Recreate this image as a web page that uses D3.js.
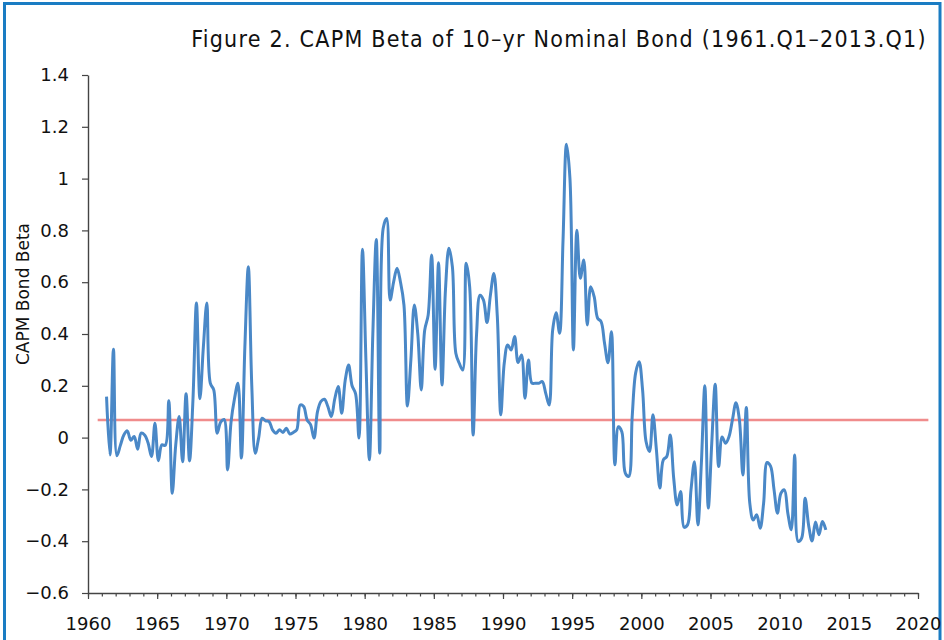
<!DOCTYPE html>
<html>
<head>
<meta charset="utf-8">
<script src="https://cdn.jsdelivr.net/npm/d3@7"></script>
<style>
  body { margin: 0; background: #fff; }
  svg { display: block; }
</style>
</head>
<body>
<div id="my_viz"></div>
<script>

var width = 944,
    height = 640;

// quarterly CAPM beta, 1961.Q1 .. 2013.Q1
var betaValues = [
    0.158, -0.067, 0.341, -0.07, -0.03, 0.01, 0.026, -0.01, 0.004, -0.045,
    0.017, 0.01, -0.02, -0.073, 0.055, -0.089, -0.028, -0.03, 0.142, -0.215,
    -0.03, 0.081, -0.093, 0.169, -0.09, 0.15, 0.52, 0.15, 0.35, 0.52,
    0.21, 0.184, 0.017, 0.06, 0.07, -0.125, 0.06, 0.15, 0.21, -0.079,
    0.35, 0.66, 0.2, -0.06, 0.0, 0.075, 0.065, 0.062, 0.03, 0.017,
    0.03, 0.02, 0.036, 0.014, 0.02, 0.03, 0.126, 0.12, 0.068, 0.05,
    -0.002, 0.1, 0.14, 0.148, 0.12, 0.081, 0.15, 0.197, 0.094, 0.22,
    0.28, 0.2, 0.17, -0.002, 0.727, 0.3, -0.086, 0.4, 0.765, -0.06,
    0.808, 0.846, 0.531, 0.6, 0.654, 0.6, 0.512, 0.122, 0.3, 0.512,
    0.4, 0.184, 0.415, 0.473, 0.705, 0.264, 0.675, 0.203, 0.57, 0.731,
    0.66, 0.326, 0.287, 0.261, 0.673, 0.582, 0.01, 0.4, 0.55, 0.531,
    0.444, 0.55, 0.634, 0.467, 0.088, 0.287, 0.358, 0.338, 0.39, 0.29,
    0.319, 0.152, 0.3, 0.21, 0.21, 0.21, 0.216, 0.171, 0.126, 0.415,
    0.482, 0.403, 0.763, 1.133, 1.0, 0.338, 0.801, 0.615, 0.686, 0.435,
    0.582, 0.544, 0.461, 0.448, 0.364, 0.289, 0.409, -0.105, 0.042, 0.023,
    -0.137, -0.15, 0.081, 0.25, 0.293, 0.184, -0.015, -0.054, 0.088, -0.047,
    -0.195, -0.086, -0.073, 0.01, -0.157, -0.26, -0.208, -0.346, -0.337, -0.202,
    -0.093, -0.337, -0.099, 0.2, -0.272, -0.022, 0.206, -0.112, 0.002, -0.022,
    0.004, 0.07, 0.135, 0.068, -0.144, 0.116, -0.253, -0.318, -0.298, -0.35,
    -0.253, -0.096, -0.11, -0.2, -0.292, -0.215, -0.202, -0.292, -0.356, -0.067,
    -0.401, -0.388, -0.234, -0.337, -0.399, -0.326, -0.375, -0.324, -0.356
];
var startYear = 1961;

// sample average beta (the red reference line) and its span in years
var meanBeta = 0.068;
var meanSpan = [1960.7, 2020.75];

var yTicks = [-0.6, -0.4, -0.2, 0, 0.2, 0.4, 0.6, 0.8, 1, 1.2, 1.4];
var xMajorTicks = [1960, 1965, 1970, 1975, 1980, 1985, 1990, 1995, 2000, 2005, 2010, 2015, 2020];
var xMinorTicks = d3.range(1960, 2021);

var titleText = "Figure 2. CAPM Beta of 10\u2013yr Nominal Bond (1961.Q1\u20132013.Q1)";
var yLabel = "CAPM Bond Beta";

var series = betaValues.map(function (v, i) {
    return { date: startYear + Math.floor(i / 4) + (i % 4) * 0.25 + 0.34, value: v };
});

var svg = d3.select("#my_viz")
    .append("svg")
    .attr("width", width)
    .attr("height", height)
    .style("background", "white");

// outer frame
svg.append("rect")
    .attr("x", 4.5)
    .attr("y", 3.5)
    .attr("width", 935.5)
    .attr("height", 700)
    .attr("fill", "none")
    .attr("stroke", "#1a7cc3")
    .attr("stroke-width", 3);

var x = d3.scaleLinear().domain([1960, 2020]).range([88, 918]);
var y = d3.scaleLinear().domain([-0.6, 1.4]).range([593, 75]);

var font = "'DejaVu Sans', Verdana, sans-serif";

// x axis: yearly minor ticks, 5-year labelled ticks
svg.append("g")
    .attr("transform", "translate(0," + y(-0.6) + ")")
    .call(d3.axisBottom(x).tickValues(xMinorTicks).tickSize(3.5).tickSizeOuter(0).tickFormat(""))
    .call(function (g) { g.select(".domain").remove(); })
    .selectAll("line").attr("stroke", "#444").attr("stroke-width", 1.2);

var xAxis = svg.append("g")
    .attr("transform", "translate(0," + y(-0.6) + ")")
    .call(d3.axisBottom(x).tickValues(xMajorTicks).tickSize(6).tickSizeOuter(0)
        .tickPadding(18).tickFormat(d3.format("d")));

xAxis.select(".domain").attr("stroke", "#444").attr("stroke-width", 1.4);
xAxis.selectAll("line").attr("stroke", "#444").attr("stroke-width", 1.2);
xAxis.selectAll("text")
    .attr("font-family", font)
    .attr("font-size", 18)
    .attr("fill", "#111");

var yAxis = svg.append("g")
    .attr("transform", "translate(" + x(1960) + ",0)")
    .call(d3.axisLeft(y).tickValues(yTicks).tickSize(6).tickSizeOuter(0)
        .tickPadding(13).tickFormat(d3.format(".1~f")));

yAxis.select(".domain").attr("stroke", "#444").attr("stroke-width", 1.4);
yAxis.selectAll("line").attr("stroke", "#444").attr("stroke-width", 1.2);
yAxis.selectAll("text")
    .attr("font-family", font)
    .attr("font-size", 18)
    .attr("fill", "#111");

// red mean line
svg.append("line")
    .attr("x1", x(meanSpan[0]))
    .attr("x2", x(meanSpan[1]))
    .attr("y1", y(meanBeta))
    .attr("y2", y(meanBeta))
    .attr("stroke", "#f08c8c")
    .attr("stroke-width", 2.5);

// beta line
var line = d3.line()
    .x(function (d) { return x(d.date); })
    .y(function (d) { return y(d.value); })
    .curve(d3.curveCatmullRom.alpha(0.5));

svg.append("path")
    .datum(series)
    .attr("d", line)
    .attr("fill", "none")
    .attr("stroke", "#4a88c7")
    .attr("stroke-width", 3)
    .attr("stroke-linejoin", "round");

// title
svg.append("text")
    .attr("x", 559)
    .attr("y", 47)
    .attr("text-anchor", "middle")
    .attr("font-family", "'DejaVu Sans Condensed', 'DejaVu Sans', sans-serif")
    .style("font-stretch", "condensed")
    .style("letter-spacing", "1.25px")
    .attr("font-size", 23)
    .attr("fill", "#111")
    .text(titleText);

// y axis title
svg.append("text")
    .attr("transform", "translate(29,294) rotate(-90)")
    .attr("text-anchor", "middle")
    .attr("font-family", font)
    .attr("font-size", 17)
    .attr("fill", "#111")
    .text(yLabel);

</script>
</body>
</html>
